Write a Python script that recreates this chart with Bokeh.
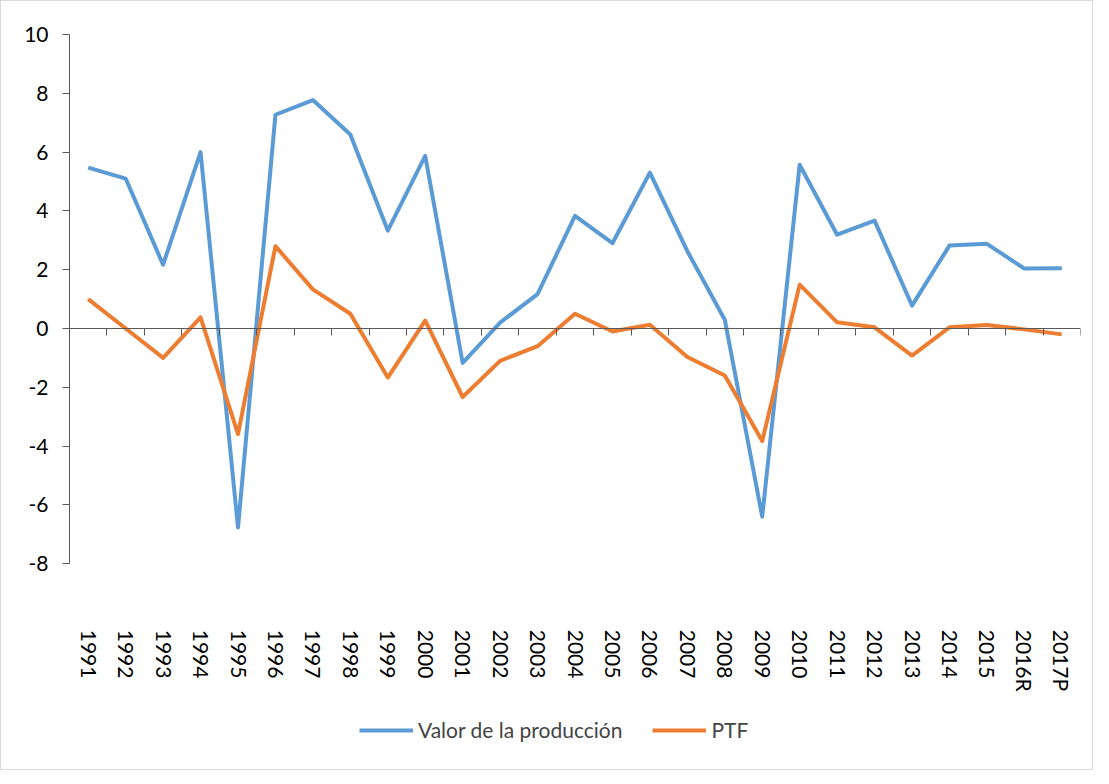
import math
from bokeh.plotting import figure
from bokeh.models import Range1d, FixedTicker, LinearAxis, Legend, LegendItem, ColumnDataSource
from bokeh.core.properties import value
from bokeh.embed import file_html
from bokeh.resources import INLINE

years = ["1991", "1992", "1993", "1994", "1995", "1996", "1997", "1998", "1999", "2000",
         "2001", "2002", "2003", "2004", "2005", "2006", "2007", "2008", "2009", "2010",
         "2011", "2012", "2013", "2014", "2015", "2016R", "2017P"]
valor = [5.47, 5.1, 2.17, 6.0, -6.77, 7.27, 7.77, 6.6, 3.33, 5.87,
         -1.17, 0.2, 1.17, 3.83, 2.9, 5.3, 2.63, 0.3, -6.4, 5.57,
         3.19, 3.67, 0.78, 2.82, 2.88, 2.04, 2.05]
ptf = [1.0, 0.0, -1.0, 0.38, -3.59, 2.8, 1.33, 0.5, -1.67, 0.27,
       -2.33, -1.1, -0.6, 0.5, -0.1, 0.13, -0.97, -1.6, -3.83, 1.49,
       0.21, 0.04, -0.92, 0.04, 0.12, -0.03, -0.2]
y_ticks = [-8, -6, -4, -2, 0, 2, 4, 6, 8, 10]

FONT = "Lato"
FSIZE = "21px"
AXIS_COLOR = "#595959"
Y_MIN, Y_MAX = -8, 10

x = list(range(len(years)))
src = ColumnDataSource(dict(x=x, valor=valor, ptf=ptf, years=years))

# frame extends below the value axis to hold the category labels and legend
p = figure(frame_width=1011, frame_height=735, output_backend="svg", toolbar_location=None,
           x_range=Range1d(-0.5, len(years) - 0.5), y_range=Range1d(-15.0, Y_MAX),
           x_axis_location=None, y_axis_location=None,
           min_border_left=68, min_border_right=12, min_border_top=33, min_border_bottom=0)
p.outline_line_color = None
p.grid.visible = False
p.styles = {"border": "1px solid #D9D9D9"}

yaxis = LinearAxis(ticker=FixedTicker(ticks=y_ticks), bounds=(Y_MIN, Y_MAX),
                   major_label_overrides={t: str(t) for t in y_ticks},
                   axis_line_color=AXIS_COLOR,
                   major_tick_line_color=AXIS_COLOR, major_tick_out=7, major_tick_in=0,
                   minor_tick_line_color=None, major_label_text_font=FONT,
                   major_label_text_font_size=FSIZE, major_label_text_color="black",
                   major_label_standoff=14)
p.add_layout(yaxis, "left")

bounds = [i - 0.5 for i in range(len(years) + 1)]
zaxis = LinearAxis(ticker=FixedTicker(ticks=bounds), fixed_location=0,
                   axis_line_color=AXIS_COLOR, major_tick_line_color=AXIS_COLOR,
                   major_tick_in=7, major_tick_out=0, minor_tick_line_color=None,
                   major_label_overrides={b: "" for b in bounds},
                   major_label_text_font_size="1px")
p.add_layout(zaxis, "above")

# category labels, rotated to read top-to-bottom, below the value axis
p.text(x="x", y=Y_MIN, text="years", source=src, angle=-math.pi / 2, y_offset=66,
       text_align="left", text_baseline="middle", text_font=value(FONT),
       text_font_size=FSIZE, text_color="black")

r1 = p.line("x", "valor", source=src, line_color="#5B9BD5", line_width=4, line_join="round")
r2 = p.line("x", "ptf", source=src, line_color="#ED7D31", line_width=4, line_join="round")

legend = Legend(items=[LegendItem(label="Valor de la producción", renderers=[r1]),
                       LegendItem(label="PTF", renderers=[r2])],
                orientation="horizontal", location=(290, 27),
                glyph_width=54, glyph_height=20, label_standoff=5, spacing=30,
                label_text_font=FONT, label_text_font_size=FSIZE,
                border_line_color=None, background_fill_alpha=0, margin=0, padding=5)
p.add_layout(legend, "center")

open("out.html", "w").write(file_html(p, INLINE))
